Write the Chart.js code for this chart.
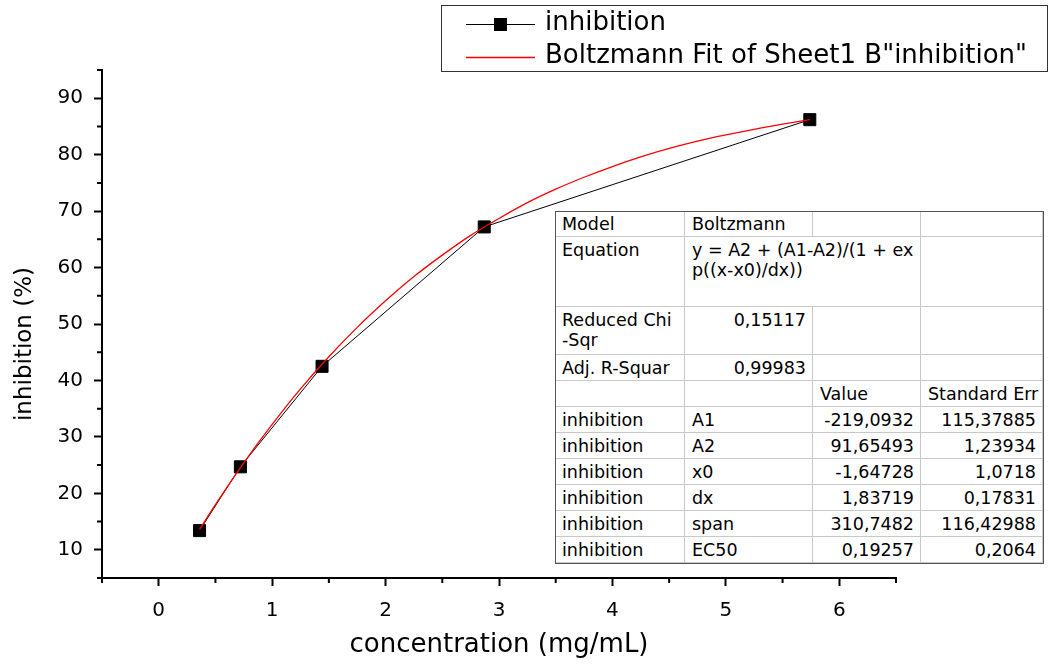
<!DOCTYPE html>
<html>
<head>
<meta charset="utf-8">
<script src="https://cdn.jsdelivr.net/npm/chart.js@4.4.1/dist/chart.umd.min.js"></script>
<style>
body { margin: 0; background: #fff; }
#wrap { position: relative; width: 1049px; height: 666px; overflow: hidden; }
#fitTable { position: absolute; left: 0; top: 0; font-family: 'DejaVu Sans'; font-size: 17.5px; color: #000; }
.cell { position: absolute; box-sizing: border-box; background: #fff; border-right: 1px solid #c8c8c8; border-bottom: 1px solid #c8c8c8; padding: 3px 6px 0 7px; line-height: 20px; white-space: nowrap; overflow: visible; }
.frame { position: absolute; box-sizing: border-box; border: 1px solid #555; pointer-events: none; }
</style>
</head>
<body>
<div id="wrap">
  <canvas id="fitChart" width="1049" height="666"></canvas>
  <div id="fitTable"></div>
</div>
<script>
// measured points
const concentration = [0.36, 0.72, 1.44, 2.87, 5.74];
const inhibition = [13.4, 24.7, 42.5, 67.2, 86.2];

// Boltzmann fit curve
const fitX = [0.36, 0.5, 0.75, 1.0, 1.25, 1.5, 1.75, 2.0, 2.25, 2.5, 2.75, 3.0, 3.25, 3.5, 3.75, 4.0, 4.25, 4.5, 4.75, 5.0, 5.25, 5.5, 5.74];
const fitY = [13.6, 18.0, 25.4, 32.2, 38.5, 44.2, 49.4, 54.1, 58.4, 62.2, 65.7, 68.7, 71.5, 73.9, 76.0, 77.9, 79.6, 81.1, 82.4, 83.5, 84.5, 85.4, 86.2];

// axis ticks
const xMajor = [0, 1, 2, 3, 4, 5, 6];
const xMinor = [-0.5, 0.5, 1.5, 2.5, 3.5, 4.5, 5.5, 6.5];
const yMajor = [10, 20, 30, 40, 50, 60, 70, 80, 90];
const yMinor = [5, 15, 25, 35, 45, 55, 65, 75, 85, 95];

const legendLabels = ['inhibition', 'Boltzmann Fit of Sheet1 B"inhibition"'];

// fit report table
const tableRows = [
    ['Model', 'Boltzmann', '', ''],
    ['Equation', 'y = A2 + (A1-A2)/(1 + ex\np((x-x0)/dx))', null, ''],
    ['Reduced Chi\n-Sqr', '0,15117', '', ''],
    ['Adj. R-Squar', '0,99983', '', ''],
    ['', '', 'Value', 'Standard Err'],
    ['inhibition', 'A1', '-219,0932', '115,37885'],
    ['inhibition', 'A2', '91,65493', '1,23934'],
    ['inhibition', 'x0', '-1,64728', '1,0718'],
    ['inhibition', 'dx', '1,83719', '0,17831'],
    ['inhibition', 'span', '310,7482', '116,42988'],
    ['inhibition', 'EC50', '0,19257', '0,2064']
];
const colEdges = [555, 685, 813, 921, 1043];
const rowEdges = [211, 237, 307, 355, 381, 407, 433, 459, 485, 511, 537, 563];

function buildTable() {
    const box = document.getElementById('fitTable');
    tableRows.forEach((row, r) => {
        row.forEach((text, c) => {
            if (text === null) return;
            let right = colEdges[c + 1];
            if (row[c + 1] === null) right = colEdges[c + 2];
            const cell = document.createElement('div');
            cell.className = 'cell';
            cell.style.left = colEdges[c] + 'px';
            cell.style.top = rowEdges[r] + 'px';
            cell.style.width = (right - colEdges[c]) + 'px';
            cell.style.height = (rowEdges[r + 1] - rowEdges[r]) + 'px';
            if (/^-?[\d,]+$/.test(text)) cell.style.textAlign = 'right';
            cell.innerHTML = text.split('\n').join('<br>');
            box.appendChild(cell);
        });
    });
    const frame = document.createElement('div');
    frame.className = 'frame';
    frame.style.left = colEdges[0] + 'px';
    frame.style.top = rowEdges[0] + 'px';
    frame.style.width = (colEdges[colEdges.length - 1] - colEdges[0] + 1) + 'px';
    frame.style.height = (rowEdges[rowEdges.length - 1] - rowEdges[0] + 1) + 'px';
    box.appendChild(frame);
}

const extras = {
    id: 'extras',
    afterDraw(chart) {
        const ctx = chart.ctx;
        const xs = chart.scales.x;
        const ys = chart.scales.y;
        ctx.save();
        ctx.strokeStyle = '#000';
        ctx.lineWidth = 2;
        ctx.beginPath();
        xMinor.forEach(v => {
            const px = xs.getPixelForValue(v);
            ctx.moveTo(px, ys.bottom);
            ctx.lineTo(px, ys.bottom + 5);
        });
        yMinor.forEach(v => {
            const py = ys.getPixelForValue(v);
            ctx.moveTo(xs.left, py);
            ctx.lineTo(xs.left - 5, py);
        });
        ctx.stroke();

        // y axis title
        ctx.fillStyle = '#000';
        ctx.font = '23px "DejaVu Sans"';
        ctx.textAlign = 'center';
        ctx.textBaseline = 'middle';
        ctx.translate(25, (ys.top + ys.bottom) / 2 + 20);
        ctx.rotate(-Math.PI / 2);
        ctx.fillText('inhibition (%)', 0, 0);
        ctx.restore();

        // legend box
        ctx.save();
        ctx.lineWidth = 1;
        ctx.strokeStyle = '#333';
        ctx.strokeRect(441.5, 5.5, 606, 66);
        ctx.font = '26px "DejaVu Sans"';
        ctx.textBaseline = 'middle';
        ctx.fillStyle = '#000';
        ctx.strokeStyle = '#000';
        ctx.beginPath();
        ctx.moveTo(466, 24.5);
        ctx.lineTo(535, 24.5);
        ctx.stroke();
        ctx.fillRect(494, 18, 13, 13);
        ctx.fillText(legendLabels[0], 545, 23);
        ctx.strokeStyle = 'rgb(255, 0, 0)';
        ctx.lineWidth = 1.5;
        ctx.beginPath();
        ctx.moveTo(466, 57.5);
        ctx.lineTo(535, 57.5);
        ctx.stroke();
        ctx.fillText(legendLabels[1], 545, 56);
        ctx.restore();
    }
};

function createChart() {
    const ctx = document.getElementById('fitChart').getContext('2d');
    new Chart(ctx, {
        type: 'line',
        data: {
            datasets: [
                {
                    label: legendLabels[0],
                    data: concentration.map((x, i) => ({ x: x, y: inhibition[i] })),
                    borderColor: '#000',
                    backgroundColor: '#000',
                    borderWidth: 1,
                    pointStyle: 'rect',
                    pointRadius: 8.5,
                    pointBorderWidth: 1,
                    tension: 0,
                    order: 1
                },
                {
                    label: legendLabels[1],
                    data: fitX.map((x, i) => ({ x: x, y: fitY[i] })),
                    borderColor: '#ff0000',
                    borderWidth: 1.3,
                    pointRadius: 0,
                    tension: 0.4,
                    cubicInterpolationMode: 'monotone',
                    order: 0
                }
            ]
        },
        options: {
            responsive: false,
            animation: false,
            layout: { padding: { left: 0, top: 70, right: 153, bottom: 0 } },
            plugins: { legend: { display: false }, tooltip: { enabled: false } },
            scales: {
                x: {
                    type: 'linear',
                    min: -0.5,
                    max: 6.5,
                    afterBuildTicks: s => { s.ticks = xMajor.map(v => ({ value: v })); },
                    afterFit: s => { s.height = 88; },
                    border: { display: true, color: '#000', width: 2 },
                    grid: { drawOnChartArea: false, color: '#000', tickLength: 8, tickWidth: 2 },
                    ticks: { color: '#000', padding: 13, font: { family: 'DejaVu Sans', size: 20 }, callback: v => String(v) },
                    title: { display: true, text: 'concentration (mg/mL)', color: '#000', font: { family: 'DejaVu Sans', size: 26 }, padding: { top: 0, bottom: 5 } }
                },
                y: {
                    min: 5,
                    max: 95,
                    afterBuildTicks: s => { s.ticks = yMajor.map(v => ({ value: v })); },
                    afterFit: s => { s.width = 102; },
                    border: { display: true, color: '#000', width: 2 },
                    grid: { drawOnChartArea: false, color: '#000', tickLength: 8, tickWidth: 2 },
                    ticks: { color: '#000', padding: 11, font: { family: 'DejaVu Sans', size: 20 }, callback: v => String(v) }
                }
            }
        },
        plugins: [extras]
    });
}

buildTable();
createChart();
</script>
</body>
</html>
